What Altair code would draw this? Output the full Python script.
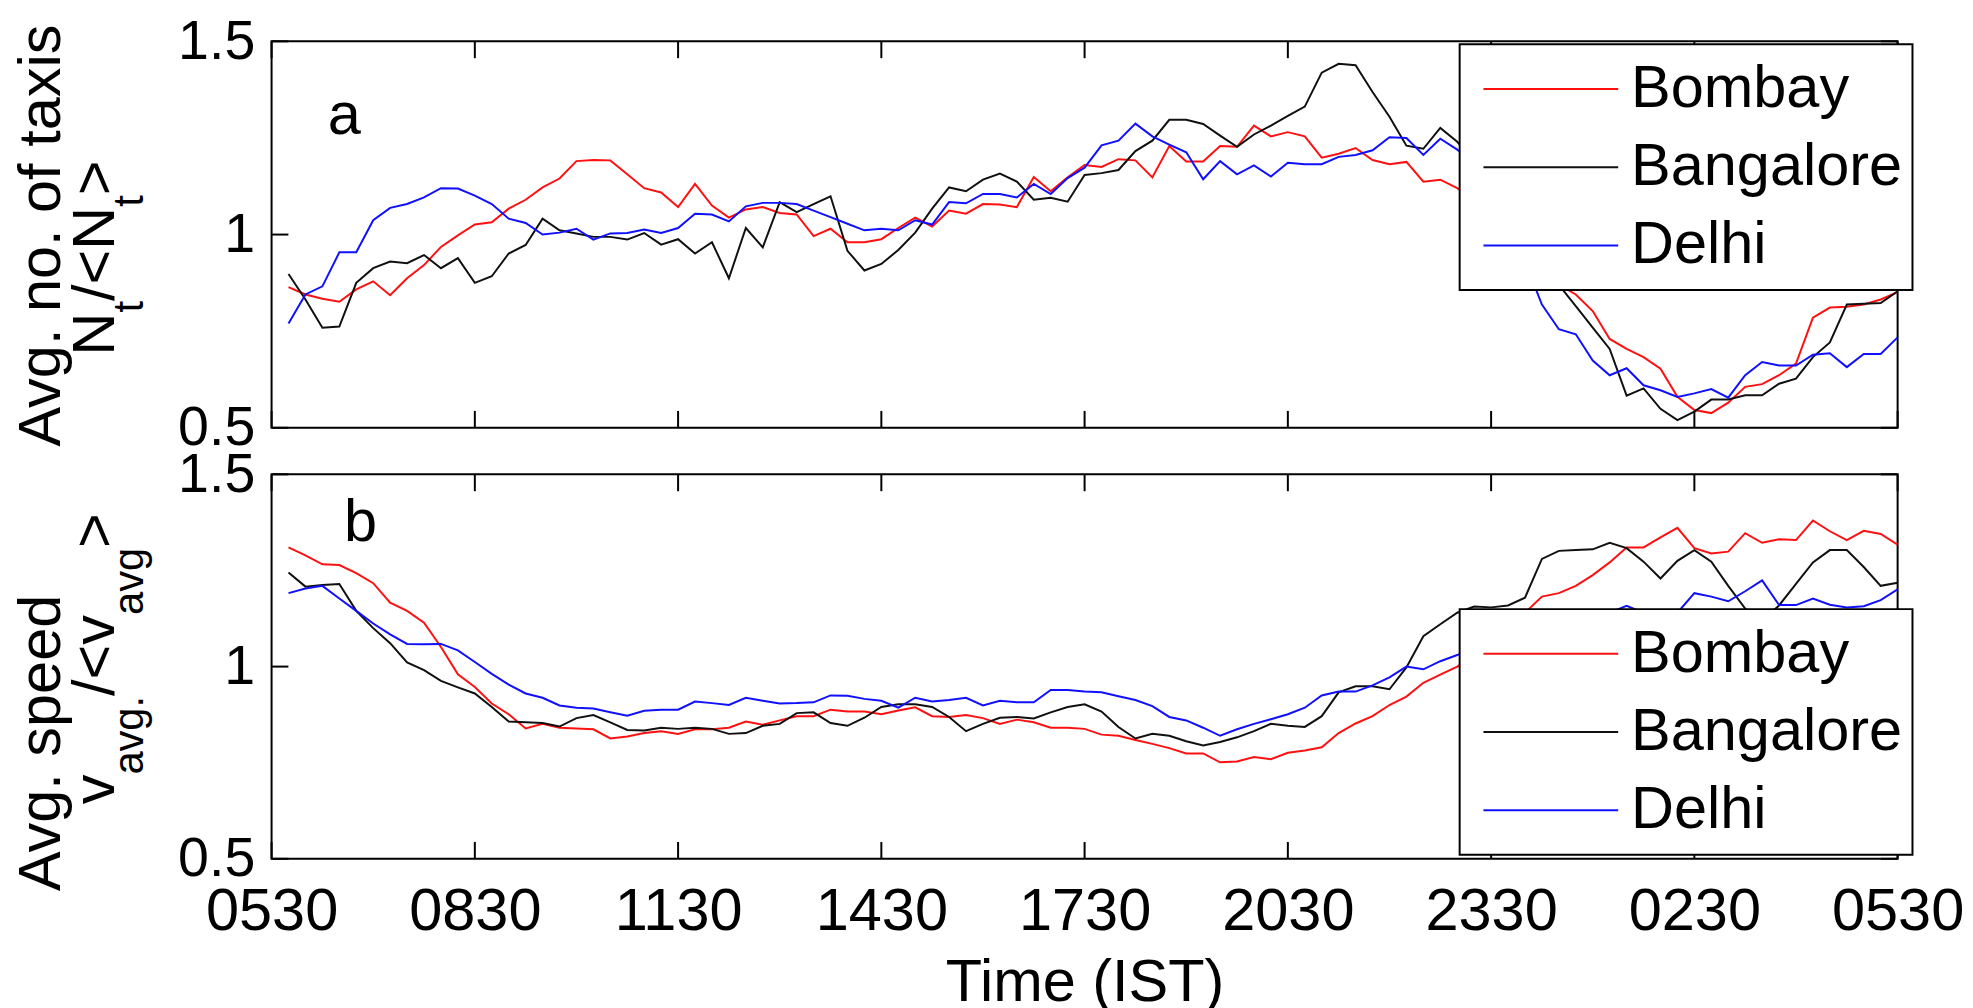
import altair as alt
import pandas as pd

FONT = "Liberation Sans"
CITIES = ["Bombay", "Bangalore", "Delhi"]
CITY_COLORS = ["#ff1010", "#101010", "#1010ff"]

# 15-minute bins, hours after 05:30 IST
TIME_HOURS = [0.25 * k for k in range(1, 97)]
TICK_HOURS = [0, 3, 6, 9, 12, 15, 18, 21, 24]
TICK_LABELS = ["0530", "0830", "1130", "1430", "1730", "2030", "2330", "0230", "0530"]
Y_TICKS = [0.5, 1.0, 1.5]

# Panel a: N_t / <N_t>
TAXIS_BOMBAY = [
    0.864, 0.845, 0.834, 0.826, 0.858, 0.879, 0.843, 0.887, 0.921, 0.968, 0.998, 1.026,
    1.032, 1.067, 1.090, 1.122, 1.145, 1.190, 1.193, 1.192, 1.156, 1.120, 1.109, 1.071,
    1.131, 1.075, 1.044, 1.065, 1.071, 1.056, 1.052, 0.996, 1.015, 0.980, 0.980, 0.988,
    1.017, 1.044, 1.021, 1.062, 1.054, 1.079, 1.078, 1.071, 1.149, 1.112, 1.148, 1.180,
    1.175, 1.195, 1.192, 1.148, 1.229, 1.189, 1.189, 1.229, 1.227, 1.282, 1.254, 1.265,
    1.254, 1.199, 1.209, 1.224, 1.193, 1.182, 1.188, 1.137, 1.142, 1.120, 1.090, 1.050,
    1.000, 0.950, 0.910, 0.870, 0.845, 0.802, 0.730, 0.704, 0.683, 0.653, 0.580, 0.546,
    0.538, 0.565, 0.606, 0.613, 0.636, 0.666, 0.785, 0.811, 0.813, 0.819, 0.832, 0.851,
]
TAXIS_BANGALORE = [
    0.898, 0.832, 0.759, 0.762, 0.875, 0.913, 0.930, 0.926, 0.947, 0.913, 0.939, 0.875,
    0.892, 0.951, 0.973, 1.041, 1.011, 1.003, 0.994, 0.994, 0.987, 1.004, 0.974, 0.988,
    0.951, 0.980, 0.887, 1.017, 0.967, 1.084, 1.058, 1.079, 1.099, 0.958, 0.907, 0.924,
    0.960, 1.005, 1.067, 1.122, 1.112, 1.142, 1.158, 1.137, 1.090, 1.095, 1.085, 1.154,
    1.159, 1.167, 1.216, 1.243, 1.297, 1.297, 1.286, 1.256, 1.227, 1.259, 1.282, 1.307,
    1.331, 1.419, 1.442, 1.438, 1.369, 1.305, 1.230, 1.222, 1.276, 1.240, 1.190, 1.130,
    1.060, 0.980, 0.920, 0.870, 0.815, 0.759, 0.704, 0.583, 0.602, 0.549, 0.520, 0.542,
    0.573, 0.573, 0.584, 0.584, 0.614, 0.627, 0.683, 0.721, 0.819, 0.821, 0.823, 0.853,
]
TAXIS_DELHI = [
    0.770, 0.845, 0.866, 0.954, 0.954, 1.037, 1.069, 1.079, 1.096, 1.120, 1.119, 1.101,
    1.079, 1.041, 1.030, 1.000, 1.005, 1.015, 0.987, 1.003, 1.004, 1.013, 1.004, 1.017,
    1.054, 1.052, 1.034, 1.073, 1.082, 1.082, 1.079, 1.062, 1.045, 1.028, 1.011, 1.015,
    1.011, 1.037, 1.026, 1.084, 1.081, 1.105, 1.105, 1.096, 1.131, 1.105, 1.146, 1.173,
    1.231, 1.243, 1.287, 1.254, 1.233, 1.213, 1.143, 1.190, 1.156, 1.179, 1.150, 1.186,
    1.182, 1.182, 1.201, 1.206, 1.218, 1.252, 1.250, 1.206, 1.248, 1.220, 1.180, 1.100,
    1.020, 0.930, 0.819, 0.755, 0.742, 0.674, 0.636, 0.654, 0.610, 0.597, 0.580, 0.589,
    0.600, 0.578, 0.636, 0.670, 0.661, 0.661, 0.689, 0.693, 0.657, 0.691, 0.691, 0.734,
]

# Panel b: v_avg / <v_avg>
SPEED_BOMBAY = [
    1.310, 1.289, 1.266, 1.264, 1.243, 1.217, 1.166, 1.145, 1.114, 1.051, 0.980, 0.947,
    0.904, 0.876, 0.839, 0.851, 0.841, 0.839, 0.837, 0.813, 0.818, 0.827, 0.832, 0.825,
    0.837, 0.837, 0.841, 0.857, 0.849, 0.860, 0.871, 0.871, 0.888, 0.883, 0.883, 0.876,
    0.886, 0.894, 0.871, 0.869, 0.874, 0.866, 0.851, 0.862, 0.855, 0.841, 0.841, 0.838,
    0.823, 0.820, 0.809, 0.799, 0.788, 0.774, 0.774, 0.751, 0.753, 0.765, 0.759, 0.776,
    0.782, 0.790, 0.827, 0.852, 0.871, 0.900, 0.922, 0.958, 0.979, 1.000, 1.030, 1.060,
    1.100, 1.140, 1.182, 1.191, 1.210, 1.238, 1.271, 1.310, 1.310, 1.336, 1.361, 1.308,
    1.294, 1.299, 1.347, 1.322, 1.331, 1.329, 1.380, 1.352, 1.329, 1.353, 1.345, 1.317,
]
SPEED_BANGALORE = [
    1.245, 1.208, 1.212, 1.215, 1.145, 1.100, 1.061, 1.011, 0.991, 0.963, 0.946, 0.930,
    0.895, 0.857, 0.855, 0.853, 0.844, 0.866, 0.874, 0.855, 0.835, 0.834, 0.841, 0.838,
    0.841, 0.838, 0.825, 0.827, 0.846, 0.851, 0.879, 0.881, 0.853, 0.846, 0.867, 0.895,
    0.902, 0.902, 0.895, 0.869, 0.832, 0.851, 0.867, 0.869, 0.865, 0.881, 0.895, 0.902,
    0.883, 0.843, 0.813, 0.825, 0.820, 0.806, 0.795, 0.804, 0.816, 0.832, 0.851, 0.846,
    0.843, 0.871, 0.933, 0.949, 0.949, 0.941, 0.998, 1.079, 1.110, 1.140, 1.156, 1.154,
    1.159, 1.179, 1.280, 1.301, 1.303, 1.305, 1.322, 1.308, 1.273, 1.229, 1.275, 1.303,
    1.273, 1.210, 1.151, 1.120, 1.159, 1.215, 1.271, 1.303, 1.303, 1.259, 1.210, 1.218,
]
SPEED_DELHI = [
    1.191, 1.203, 1.210, 1.177, 1.145, 1.112, 1.084, 1.059, 1.058, 1.059, 1.042, 1.012,
    0.981, 0.953, 0.930, 0.919, 0.899, 0.893, 0.891, 0.881, 0.872, 0.885, 0.888, 0.888,
    0.909, 0.905, 0.900, 0.919, 0.911, 0.904, 0.905, 0.907, 0.925, 0.924, 0.916, 0.911,
    0.893, 0.919, 0.909, 0.913, 0.919, 0.899, 0.911, 0.907, 0.907, 0.939, 0.939, 0.935,
    0.933, 0.923, 0.913, 0.897, 0.869, 0.860, 0.841, 0.820, 0.837, 0.851, 0.863, 0.876,
    0.893, 0.925, 0.935, 0.935, 0.951, 0.972, 1.000, 0.993, 1.014, 1.030, 1.050, 1.070,
    1.090, 1.100, 1.120, 1.130, 1.140, 1.130, 1.140, 1.158, 1.140, 1.130, 1.140, 1.191,
    1.182, 1.170, 1.196, 1.224, 1.160, 1.160, 1.177, 1.161, 1.154, 1.157, 1.173, 1.201,
]

PANEL_LETTERS = ["a", "b"]
LETTER_T = [0.83, 1.07]
LETTER_V = [1.259, 1.327]

# ---------------------------------------------------------------- layout
W = 1641
H_A = 390
H_B = 388
TICK_LEN = 17
FS = 60
YLAB_FS = 56
SUB_FS = 42
ARIAL_W = {"N": 0.722, "t": 0.278, "/": 0.278, "<": 0.584, ">": 0.584,
           "v": 0.5, "a": 0.556, "g": 0.556, ".": 0.278}


def text_w(s, size):
    return sum(ARIAL_W[c] for c in s) * size


def long_df(series):
    rows = []
    for city, vals in zip(CITIES, series):
        for t, v in zip(TIME_HOURS, vals):
            rows.append({"t": t, "v": v, "city": city})
    return pd.DataFrame(rows)


label_expr = "[" + ",".join("'%s'" % s for s in TICK_LABELS) + "][round(datum.value / 3)]"

y_axis = alt.Axis(values=Y_TICKS, format="~g", ticks=False, domain=False, grid=False,
                  labelFontSize=YLAB_FS, labelFont=FONT, labelColor="black", labelPadding=17,
                  labelFlush=False, labelOverlap=False, title=None)
y_enc = alt.Y("v:Q", scale=alt.Scale(domain=[0.5, 1.5], nice=False, zero=False), axis=y_axis)

x_scale = alt.Scale(domain=[0, 24], nice=False, zero=False)
x_axis_b = alt.Axis(values=TICK_HOURS, labelExpr=label_expr, ticks=False, domain=False,
                    grid=False, labelFontSize=FS, labelFont=FONT, labelColor="black",
                    labelPadding=24, labelFlush=False, labelOverlap=False,
                    title="Time (IST)", titleFontSize=FS, titleFont=FONT,
                    titleFontWeight="normal", titleColor="black", titlePadding=13)

ONE = pd.DataFrame({"k": [0]})


def piece(text, x, y, size, align="left"):
    return alt.Chart(ONE).mark_text(
        text=text, angle=270, align=align, baseline="alphabetic",
        fontSize=size, font=FONT, color="black"
    ).encode(x=alt.value(x), y=alt.value(y))


def line2_pieces(parts, start_y, main_x, sub_x):
    out = []
    y = start_y
    for s, is_sub in parts:
        size = SUB_FS if is_sub else FS
        out.append(piece(s, sub_x if is_sub else main_x, y, size))
        y -= text_w(s, size)
    return out


def panel(series, height, x_enc, legend_y, letter_idx, title_layers):
    df = long_df(series)
    ticks_x = pd.DataFrame({"t": TICK_HOURS})
    ticks_y = pd.DataFrame({"v": Y_TICKS})
    rule = dict(color="black", strokeWidth=2)
    top = alt.Chart(ticks_x).mark_rule(**rule).encode(
        x=x_enc, y=alt.value(0), y2=alt.value(TICK_LEN))
    bottom = alt.Chart(ticks_x).mark_rule(**rule).encode(
        x=x_enc, y=alt.value(height - TICK_LEN), y2=alt.value(height))
    left = alt.Chart(ticks_y).mark_rule(**rule).encode(
        y=y_enc, x=alt.value(0), x2=alt.value(TICK_LEN))
    right = alt.Chart(ticks_y).mark_rule(**rule).encode(
        y=y_enc, x=alt.value(W - TICK_LEN), x2=alt.value(W))

    legend = alt.Legend(
        title=None, orient="none", legendX=1199, legendY=legend_y, direction="vertical",
        padding=10, rowPadding=9, clipHeight=70, symbolType="stroke",
        symbolSize=18496, symbolStrokeWidth=2, symbolOffset=13, labelOffset=12,
        labelFontSize=FS, labelFont=FONT, labelColor="black", labelLimit=500,
        fillColor="white", strokeColor="black",
    )
    lines = alt.Chart(df).mark_line(strokeWidth=2, clip=True).encode(
        x=x_enc, y=y_enc,
        color=alt.Color("city:N", sort=CITIES,
                        scale=alt.Scale(domain=CITIES, range=CITY_COLORS), legend=legend),
    )
    letter_df = pd.DataFrame({"t": [LETTER_T[letter_idx]], "v": [LETTER_V[letter_idx]],
                              "s": [PANEL_LETTERS[letter_idx]]})
    letter = alt.Chart(letter_df).mark_text(
        align="left", baseline="alphabetic", fontSize=FS, font=FONT, color="black"
    ).encode(x=x_enc, y=y_enc, text="s:N")
    return alt.layer(top, bottom, left, right, lines, letter, *title_layers).properties(
        width=W, height=height)


x_enc_a = alt.X("t:Q", scale=x_scale, axis=None)
x_enc_b = alt.X("t:Q", scale=x_scale, axis=x_axis_b)

MAIN_X = -159
SUB_X = -130
LINE1_X = -214

titles_a = [piece("Avg. no. of taxis", LINE1_X, 196, FS, "center")] + line2_pieces(
    [("N", False), ("t", True), ("/<N", False), ("t", True), (">", False)],
    317, MAIN_X, SUB_X)
titles_b = [piece("Avg. speed", LINE1_X, 271, FS, "center")] + line2_pieces(
    [("v", False), ("avg.", True), ("/<v", False), ("avg", True), (">", False)],
    333, MAIN_X, SUB_X)

pa = panel([TAXIS_BOMBAY, TAXIS_BANGALORE, TAXIS_DELHI], H_A, x_enc_a, 3, 0, titles_a)
pb = panel([SPEED_BOMBAY, SPEED_BANGALORE, SPEED_DELHI], H_B, x_enc_b, 136, 1, titles_b)

chart = alt.vconcat(pa, pb, spacing=47, bounds="flush").resolve_legend(
    color="independent"
).configure(
    font=FONT, background="white",
    padding={"left": 3, "top": 0, "right": 0, "bottom": 0},
).configure_view(stroke="black", strokeWidth=2).configure_legend(strokeWidth=2)

chart.save("out.html", embed_options={"renderer": "svg", "actions": False})
